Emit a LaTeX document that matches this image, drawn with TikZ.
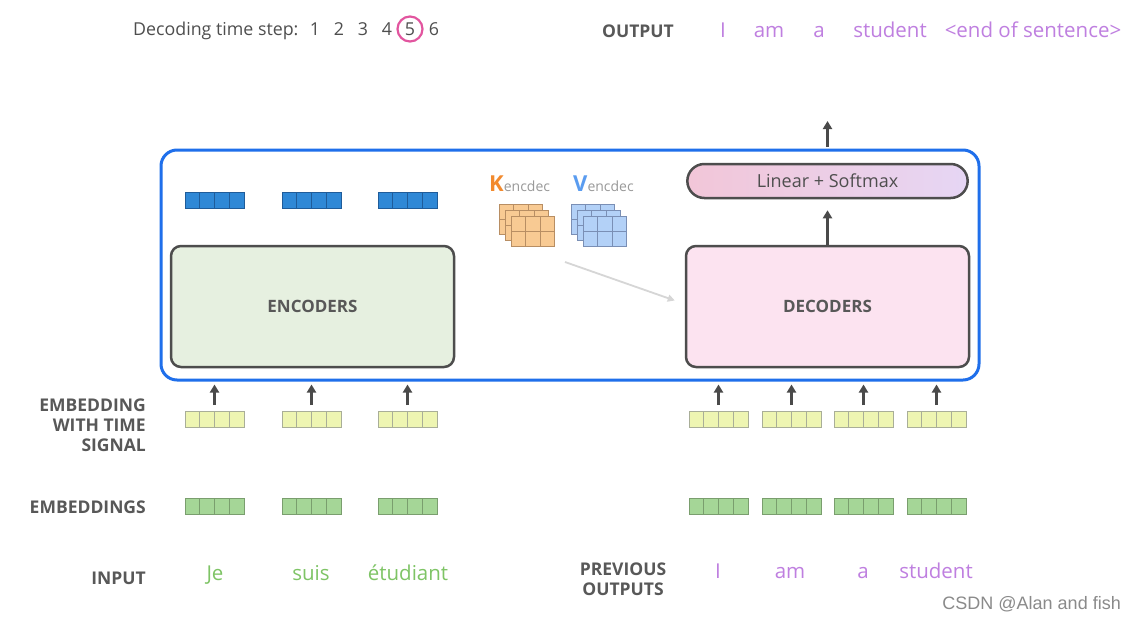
\documentclass[tikz,border=0pt]{standalone}
\usepackage{fontspec}
\setmainfont{Open Sans}
\newfontfamily\wmfont{Liberation Sans}
\usetikzlibrary{arrows.meta,shapes.misc,calc}
\definecolor{lab}{HTML}{585858}
\definecolor{txt}{HTML}{4E4E4E}
\definecolor{purp}{HTML}{BF7FE0}
\definecolor{grn}{HTML}{7EC465}
\definecolor{arrgray}{HTML}{4A4A4A}
\definecolor{outblue}{HTML}{1F6FEB}
\definecolor{pinkc}{HTML}{E2559F}
\definecolor{bfill}{HTML}{2F88D6}
\definecolor{bdraw}{HTML}{1F5C9A}
\definecolor{yfill}{HTML}{EEF5B2}
\definecolor{ydraw}{HTML}{A9AE98}
\definecolor{gfill}{HTML}{A5D697}
\definecolor{gdraw}{HTML}{7A9E6E}
\definecolor{kfill}{HTML}{F8CA93}
\definecolor{kdraw}{HTML}{B88E63}
\definecolor{vfill}{HTML}{B3D1F7}
\definecolor{vdraw}{HTML}{7A8FB5}
\definecolor{korange}{HTML}{F28A2E}
\definecolor{vblue}{HTML}{5A9CF0}
\definecolor{encfill}{HTML}{E6F0E0}
\definecolor{decfill}{HTML}{FCE3F0}
\definecolor{boxdraw}{HTML}{4D4D4D}
\definecolor{linl}{HTML}{F2C6D8}
\definecolor{linr}{HTML}{E6D6F4}
\definecolor{lgray}{HTML}{D6D6D6}
\definecolor{wm}{HTML}{8A8A8A}
\definecolor{subgray}{HTML}{999999}
\tikzset{
  cellvec/.style n args={2}{minimum width=59pt, minimum height=16pt, inner sep=0pt,
    draw=#2, fill=#1, line width=0.8pt,
    path picture={\foreach \i in {0.25,0.5,0.75}{\draw[#2,line width=0.8pt]
      ($(path picture bounding box.south west)!\i!(path picture bounding box.south east)$) --
      ($(path picture bounding box.north west)!\i!(path picture bounding box.north east)$);}}},
  bvec/.style={cellvec={bfill}{bdraw}},
  yvec/.style={cellvec={yfill}{ydraw}},
  gvec/.style={cellvec={gfill}{gdraw}},
  kvgrid/.style n args={2}{minimum width=43pt, minimum height=30pt, inner sep=0pt,
    draw=#2, fill=#1, line width=0.8pt,
    path picture={\foreach \i in {0.3333,0.6667}{\draw[#2,line width=0.8pt]
      ($(path picture bounding box.south west)!\i!(path picture bounding box.south east)$) --
      ($(path picture bounding box.north west)!\i!(path picture bounding box.north east)$);}
      \draw[#2,line width=0.8pt] (path picture bounding box.west) -- (path picture bounding box.east);}},
  kgrid/.style={kvgrid={kfill}{kdraw}},
  vgrid/.style={kvgrid={vfill}{vdraw}},
  arr/.style={-{Triangle[width=9pt,length=8pt]}, line width=2.5pt, draw=arrgray},
  lbl/.style={font=\fontsize{17.5}{20}\selectfont\bfseries, text=lab, inner sep=0pt},
  pword/.style={font=\fontsize{20.5}{24}\selectfont, text=purp, inner sep=0pt, anchor=base},
  gword/.style={font=\fontsize{20.5}{24}\selectfont, text=grn, inner sep=0pt, anchor=base},
  num/.style={font=\fontsize{17.8}{21}\selectfont, text=txt, inner sep=0pt, anchor=base},
  bigbox/.style={minimum width=283pt, minimum height=121pt, rounded corners=10pt, draw=boxdraw,
    line width=2.5pt, font=\fontsize{17}{20}\selectfont\bfseries, text=lab},
}
\begin{document}
\begin{tikzpicture}[x=1pt,y=-1pt]
\useasboundingbox[fill=white] (0,0) rectangle (1135,619);

% top line
\node[num, anchor=base west] (dts) at (133,35) {Decoding time step:};
\node[num] (n1) at (315,35) {1};
\node[num] (n2) at (339,35) {2};
\node[num] (n3) at (363,35) {3};
\node[num] (n4) at (387,35) {4};
\node[num] (n5) at (410,35) {5};
\node[num] (n6) at (434,35) {6};
\node[circle, draw=pinkc, line width=2.2pt, minimum size=25pt, inner sep=0pt] (c5) at (410,29) {};

\node[lbl] (outlab) at (638,31) {OUTPUT};
\node[pword] (o1) at (723,37) {I};
\node[pword] (o2) at (769,37) {am};
\node[pword] (o3) at (819,37) {a};
\node[pword] (o4) at (890,37) {student};
\node[pword] (o5) at (1033,37) {<end of sentence>};

% outer box
\node[draw=outblue, line width=3pt, rounded corners=16pt, minimum width=818pt, minimum height=230pt] (outer) at (570,265) {};

% encoder outputs
\node[bvec] (b1) at (214.5,200.5) {};
\node[bvec] (b2) at (311.5,200.5) {};
\node[bvec] (b3) at (407.5,200.5) {};

\node[bigbox, fill=encfill] (enc) at (312.5,306.5) {ENCODERS};
\node[bigbox, fill=decfill] (dec) at (827.5,306.5) {DECODERS};

\node[rounded rectangle, draw=boxdraw, line width=2.5pt, minimum width=287pt, minimum height=34pt,
  left color=linl, right color=linr, font=\fontsize{18}{21}\selectfont, text=txt] (lin) at (827.5,181) {Linear + Softmax};

\draw[arr, shorten >=11pt] (dec.north) -- (lin.south);
\coordinate (a0) at (827.5,147);
\coordinate (outtop) at (827.5,121);
\draw[arr] (a0) -- (outtop);

% K and V
\node[inner sep=0pt, anchor=base west] (klab) at (489,191) {\fontsize{22}{24}\selectfont\bfseries\color{korange}K\mdseries\fontsize{14}{16}\selectfont\color{subgray}encdec};
\node[inner sep=0pt, anchor=base west] (vlab) at (573,191) {\fontsize{22}{24}\selectfont\bfseries\color{vblue}V\mdseries\fontsize{14}{16}\selectfont\color{subgray}encdec};
\node[kgrid, anchor=north west] (k1) at (499,204) {};
\node[kgrid, anchor=north west] (k2) at (505,210) {};
\node[kgrid, anchor=north west] (k3) at (511,216) {};
\node[vgrid, anchor=north west] (v1) at (571,204) {};
\node[vgrid, anchor=north west] (v2) at (577,210) {};
\node[vgrid, anchor=north west] (v3) at (583,216) {};

\coordinate (gstart) at (565,262);
\draw[-{Triangle[width=7pt,length=7pt]}, line width=1.8pt, draw=lgray] (gstart) -- ($(dec.west)+(-10,-6)$);

% embeddings with time signal
\node[yvec] (ye1) at (214.5,419.5) {};
\node[yvec] (ye2) at (311.5,419.5) {};
\node[yvec] (ye3) at (407.5,419.5) {};
\node[yvec] (yd1) at (718.5,419.5) {};
\node[yvec] (yd2) at (791.5,419.5) {};
\node[yvec] (yd3) at (863.5,419.5) {};
\node[yvec] (yd4) at (936.5,419.5) {};
\foreach \n in {ye1,ye2,ye3,yd1,yd2,yd3,yd4}{
  \draw[arr, shorten <=6pt, shorten >=3pt] (\n.north) -- (\n.north |- outer.south);
}

% embeddings
\node[gvec] (ge1) at (214.5,506.5) {};
\node[gvec] (ge2) at (311.5,506.5) {};
\node[gvec] (ge3) at (407.5,506.5) {};
\node[gvec] (gd1) at (718.5,506.5) {};
\node[gvec] (gd2) at (791.5,506.5) {};
\node[gvec] (gd3) at (863.5,506.5) {};
\node[gvec] (gd4) at (936.5,506.5) {};

% labels
\node[lbl, align=right, anchor=east] (l1) at (146,425) {EMBEDDING\\WITH TIME\\SIGNAL};
\node[lbl, anchor=east] (l2) at (146,507) {EMBEDDINGS};
\node[lbl, anchor=east] (l3) at (146,578) {INPUT};
\node[lbl, align=center] (l4) at (623,579) {PREVIOUS\\OUTPUTS};

% input words
\node[gword] (w1) at (215,580) {Je};
\node[gword] (w2) at (311,580) {suis};
\node[gword] (w3) at (408,580) {étudiant};
\node[pword] (p1) at (718,578) {I};
\node[pword] (p2) at (790,578) {am};
\node[pword] (p3) at (863,578) {a};
\node[pword] (p4) at (936,578) {student};

\node[inner sep=0pt, anchor=base east, font=\wmfont\fontsize{18}{20}\selectfont, text=wm] (wmk) at (1121,609) {CSDN @Alan and fish};
\end{tikzpicture}
\end{document}
